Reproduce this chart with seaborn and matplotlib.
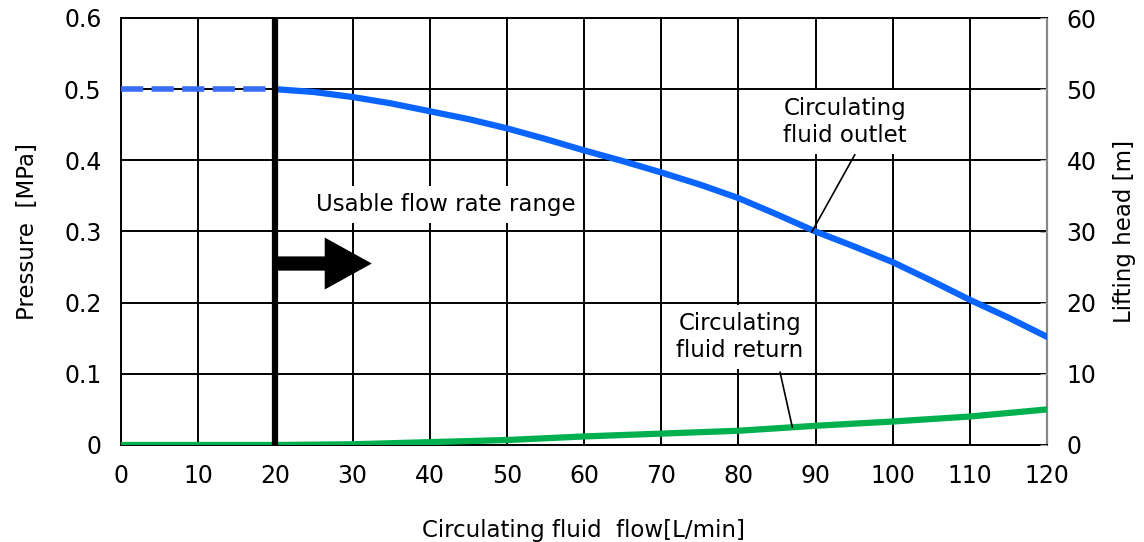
import numpy as np
import pandas as pd
import seaborn as sns
import matplotlib.pyplot as plt

# values
flow = [20, 25, 30, 35, 40, 45, 50, 55, 60, 65, 70, 75, 80, 85, 90, 95, 100, 105, 110, 115, 120]
outlet = [0.500, 0.496, 0.489, 0.480, 0.469, 0.458, 0.445, 0.430, 0.414, 0.399, 0.383,
          0.366, 0.347, 0.324, 0.300, 0.279, 0.257, 0.231, 0.204, 0.179, 0.152]
flow_low = [0, 20]
outlet_low = [0.5, 0.5]
flow_ret = [0, 10, 20, 30, 40, 50, 60, 70, 80, 90, 100, 110, 120]
ret = [0.0, 0.0, 0.0, 0.001, 0.004, 0.007, 0.012, 0.016, 0.020, 0.027, 0.033, 0.040, 0.050]
x_ticks = list(range(0, 121, 10))
y_ticks = [0, 0.1, 0.2, 0.3, 0.4, 0.5, 0.6]
y_labels = ["0", "0.1", "0.2", "0.3", "0.4", "0.5", "0.6"]
head_ticks = [0, 10, 20, 30, 40, 50, 60]

sns.set_style("white")
plt.rcParams["font.family"] = ["DejaVu Sans"]
plt.rcParams["text.color"] = "black"
plt.rcParams["axes.labelcolor"] = "black"
plt.rcParams["xtick.labelcolor"] = "black"
plt.rcParams["ytick.labelcolor"] = "black"
FS = 16.5
TS = 17

fig = plt.figure(figsize=(11.44, 5.42), dpi=100)
ax = fig.add_axes([121 / 1144, 1 - 445 / 542, (1047 - 121) / 1144, (445 - 18) / 542])

df_out = pd.DataFrame({"flow": flow, "p": outlet})
df_low = pd.DataFrame({"flow": flow_low, "p": outlet_low})
df_ret = pd.DataFrame({"flow": flow_ret, "p": ret})

# usable range marker
ax.axvline(20, color="black", lw=4.5, zorder=4)

sns.lineplot(data=df_low, x="flow", y="p", ax=ax, color="#3b6cf6", lw=4,
             linestyle=(0, (4, 1.5)), zorder=3)
sns.lineplot(data=df_out, x="flow", y="p", ax=ax, color="#0a64ff", lw=4.5, zorder=3)
sns.lineplot(data=df_ret, x="flow", y="p", ax=ax, color="#00b04f", lw=4.5, zorder=3)

ax.arrow(20, 0.255, 12.5, 0, width=0.02, head_width=0.073, head_length=6.1,
         length_includes_head=True, color="black", lw=0, zorder=5)

ax.set_xlim(0, 120)
ax.set_ylim(0, 0.6)
ax.set_xticks(x_ticks)
ax.set_yticks(y_ticks)
ax.set_yticklabels(y_labels)
ax.grid(True, color="black", lw=1.4)
ax.set_axisbelow(True)
for s in ["left", "bottom", "top"]:
    ax.spines[s].set_color("black")
    ax.spines[s].set_linewidth(1.4)
ax.spines["right"].set_color("#888888")
ax.spines["right"].set_linewidth(1.6)
ax.tick_params(axis="x", length=0, labelsize=TS, pad=14)
ax.tick_params(axis="y", length=0, labelsize=TS, pad=14)

ax.set_xlabel("Circulating fluid  flow[L/min]", fontsize=FS, labelpad=22)
ax.set_ylabel("Pressure  [MPa]", fontsize=FS, labelpad=18)

ax2 = ax.twinx()
ax2.set_ylim(0, 60)
ax2.set_yticks(head_ticks)
ax2.tick_params(axis="y", direction="in", length=5, color="#aaaaaa", labelsize=TS, pad=14)
for s in ax2.spines.values():
    s.set_visible(False)
ax2.set_ylabel("Lifting head [m]", fontsize=FS, labelpad=12)

box = dict(facecolor="white", edgecolor="none", pad=5)
ax.text(25.3, 0.338, "Usable flow rate range", fontsize=FS, va="center", ha="left",
        bbox=box, zorder=2.5)
ax.text(93.8, 0.454, "Circulating\nfluid outlet", fontsize=FS, va="center", ha="center",
        linespacing=1.25, bbox=box, zorder=2.5)
ax.plot([95.1, 89.5], [0.408, 0.299], color="black", lw=1.2, zorder=3.5)
ax.text(80.2, 0.152, "Circulating\nfluid return", fontsize=FS, va="center", ha="center",
        linespacing=1.25, bbox=box, zorder=2.5)
ax.plot([85.4, 87.0], [0.1025, 0.025], color="black", lw=1.2, zorder=3.5)

fig.savefig("out.png", dpi=100)
